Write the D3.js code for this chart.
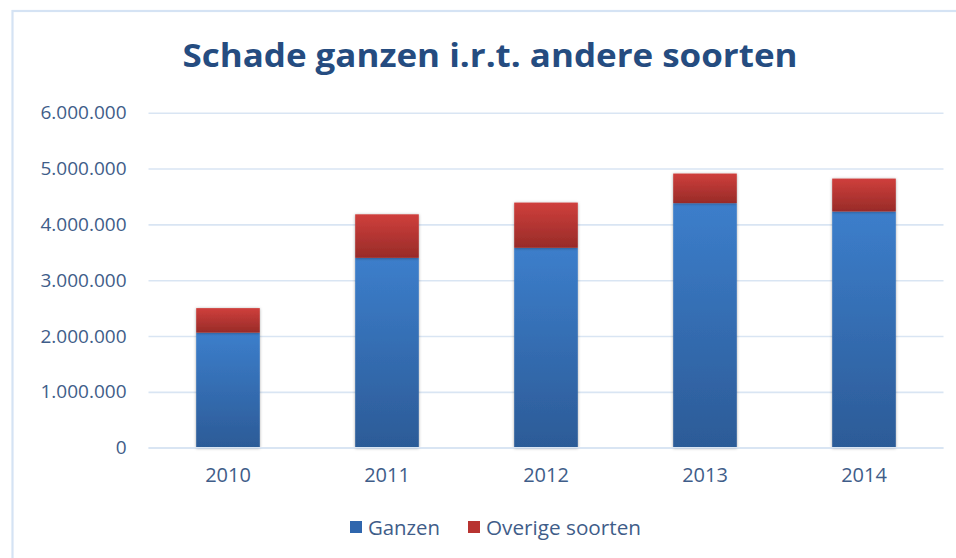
<!DOCTYPE html>
<html>
<head>
<meta charset="utf-8">
<script src="https://cdn.jsdelivr.net/npm/d3@7/dist/d3.min.js"></script>
<style>
  html, body { margin: 0; padding: 0; background: #ffffff; }
  svg { display: block; }
</style>
</head>
<body>
<svg id="chart" width="956" height="558"></svg>
<script>
// ---- data ----
const years = ["2010", "2011", "2012", "2013", "2014"];
const ganzen = [2060000, 3400000, 3580000, 4380000, 4230000];
const overige = [440000, 780000, 810000, 530000, 590000];
const seriesNames = ["Ganzen", "Overige soorten"];
const yTicks = [0, 1000000, 2000000, 3000000, 4000000, 5000000, 6000000];
const titleText = "Schade ganzen i.r.t. andere soorten";

// ---- setup ----
const W = 956, H = 558;
const svg = d3.select("#chart");
const defs = svg.append("defs");

function grad(id, top, bottom) {
  const g = defs.append("linearGradient").attr("id", id)
    .attr("x1", 0).attr("y1", 0).attr("x2", 0).attr("y2", 1);
  g.append("stop").attr("offset", "0%").attr("stop-color", top);
  g.append("stop").attr("offset", "100%").attr("stop-color", bottom);
}
grad("gBlue", "#3c7ecb", "#2c5b97");
grad("gRed", "#cf3f3c", "#982b28");
const f = defs.append("filter").attr("id", "shadow")
  .attr("x", "-20%").attr("y", "-20%").attr("width", "140%").attr("height", "140%");
f.append("feDropShadow").attr("dx", 0).attr("dy", 0.5).attr("stdDeviation", 1.6)
  .attr("flood-color", "#000").attr("flood-opacity", 0.35);

// frame
svg.append("rect").attr("x", 12.5).attr("y", 11).attr("width", 1000).attr("height", 600)
  .attr("fill", "#ffffff").attr("stroke", "#d5e3f4").attr("stroke-width", 2.2);

// title
svg.append("text").attr("x", 490).attr("y", 67).attr("text-anchor", "middle")
  .attr("font-family", "'Open Sans', sans-serif").attr("font-weight", "bold")
  .attr("font-size", 32).attr("fill", "#254c80")
  .attr("textLength", 615).attr("lengthAdjust", "spacingAndGlyphs")
  .text(titleText);

// scales
const x = d3.scaleBand().domain(years).range([148.5, 943.5]).paddingInner(0.6).paddingOuter(0.3);
const y = d3.scaleLinear().domain([0, 6000000]).range([447.7, 112.7]);

const nl = d3.formatLocale({ decimal: ",", thousands: ".", grouping: [3], currency: ["€", ""] });
const fmt = nl.format(",d");

// grid / y axis
const yAxis = svg.append("g").attr("transform", "translate(148.5,0)")
  .call(d3.axisLeft(y).tickValues(yTicks).tickFormat(fmt).tickSize(-795).tickPadding(22));
yAxis.select(".domain").remove();
yAxis.selectAll(".tick line").attr("stroke", "#d9e5f3").attr("stroke-width", 1.6);
yAxis.selectAll(".tick text").attr("font-family", "'Open Sans', sans-serif")
  .attr("font-size", 19).attr("fill", "#3f5d89");

// stacked data
const rows = years.map((yr, i) => ({ year: yr, Ganzen: ganzen[i], "Overige soorten": overige[i] }));
const stack = d3.stack().keys(seriesNames)(rows);
const fills = { "Ganzen": "url(#gBlue)", "Overige soorten": "url(#gRed)" };

const barG = svg.append("g");
stack.forEach(s => {
  barG.append("g").selectAll("rect").data(s).join("rect")
    .attr("x", d => x(d.data.year))
    .attr("width", x.bandwidth())
    .attr("y", d => y(d[1]))
    .attr("height", d => y(d[0]) - y(d[1]))
    .attr("fill", fills[s.key])
    .attr("filter", "url(#shadow)");
});

// x axis
const xAxis = svg.append("g").attr("transform", "translate(0,447.7)")
  .call(d3.axisBottom(x).tickSize(0).tickPadding(20));
xAxis.select(".domain").attr("stroke", "#d9e5f3").attr("stroke-width", 1.6)
  .attr("d", "M148.5,0H943.5");
xAxis.selectAll(".tick text").attr("font-family", "'Open Sans', sans-serif")
  .attr("font-size", 20).attr("fill", "#3f5d89");

// legend
const legendColors = ["#2f66ad", "#b83431"];
const legendX = [350, 468];
const legendW = [72, 155];
const lg = svg.append("g");
seriesNames.forEach((n, i) => {
  lg.append("rect").attr("x", legendX[i]).attr("y", 521).attr("width", 12).attr("height", 12)
    .attr("fill", legendColors[i]);
  lg.append("text").attr("x", legendX[i] + 18).attr("y", 535)
    .attr("font-family", "'Open Sans', sans-serif").attr("font-size", 20).attr("fill", "#3f5d89")
    .attr("textLength", legendW[i]).attr("lengthAdjust", "spacingAndGlyphs")
    .text(n);
});
</script>
</body>
</html>
